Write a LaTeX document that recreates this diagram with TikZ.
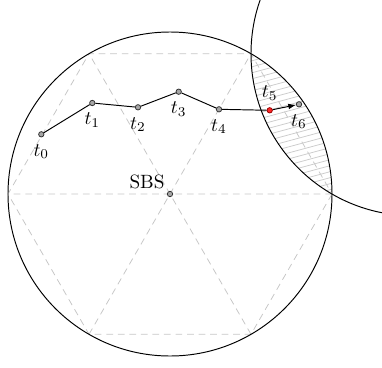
\documentclass[tikz,border=0pt]{standalone}
\usetikzlibrary{arrows.meta,calc}
\tikzset{
  tdot/.style={circle,draw=black!80,fill=gray!70,inner sep=0pt,minimum size=2.8pt,line width=0.4pt},
  hdot/.style={tdot,draw=red!60!black,fill=red!85},
  cellline/.style={gray!45,dash pattern=on 3.5pt off 2.5pt,line width=0.4pt},
  hatchline/.style={gray!40,line width=0.4pt},
}

\begin{document}
\begin{tikzpicture}[x=0.52pt,y=-0.52pt]
    \useasboundingbox (0,0) rectangle (382,367);
    \clip (0,0) rectangle (382,367);
    % hexagonal cell around the serving base station
    \coordinate (sbs) at (170,194);
    \coordinate (nbs) at (413,53.7);
    \foreach \a in {0,60,...,300}
        \coordinate (v\a) at ($(sbs)+(\a:162)$);
    \draw[cellline] (v0) -- (v60) -- (v120) -- (v180) -- (v240) -- (v300) -- cycle;
    \draw[cellline] (v0) -- (v180) (v60) -- (v240) (v120) -- (v300);
    % overlap of the two coverage circles
    \begin{scope}
        \clip (sbs) circle[radius=162];
        \clip (nbs) circle[radius=162];
        \foreach \y in {40,46,...,240}
            \draw[hatchline] (240,\y) -- (340,\y-27);
    \end{scope}
    \draw[line width=0.5pt] (sbs) circle[radius=162];
    \draw[line width=0.5pt] (nbs) circle[radius=162];
    % trajectory
    \node[tdot,label={[inner sep=1.5pt]above left:SBS}] (s) at (sbs) {};
    \node[tdot,label=below:$t_0$] (t0) at (41.3,134.3) {};
    \node[tdot,label=below:$t_1$] (t1) at (92.3,103) {};
    \node[tdot,label=below:$t_2$] (t2) at (138,107.3) {};
    \node[tdot,label=below:$t_3$] (t3) at (178.7,91.7) {};
    \node[tdot,label=below:$t_4$] (t4) at (219,109.3) {};
    \node[hdot,label=above:$t_5$] (t5) at (269.7,110.3) {};
    \node[tdot,label=below:$t_6$] (t6) at (299,104.3) {};
    \draw[line width=0.5pt] (t0) -- (t1) -- (t2) -- (t3) -- (t4) -- (t5);
    \draw[line width=0.5pt,-{Latex[length=4pt,width=3pt]}] (t5) -- (t6);
\end{tikzpicture}
\end{document}
